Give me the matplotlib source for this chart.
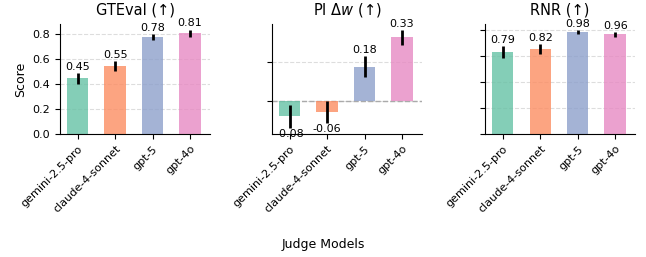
import matplotlib
matplotlib.use("Agg")
import matplotlib.pyplot as plt

models = ["gemini-2.5-pro", "claude-4-sonnet", "gpt-5", "gpt-4o"]
colors = ["#66c2a5", "#fc8d62", "#8da0cb", "#e78ac3"]

gteval = [0.445, 0.545, 0.775, 0.805]
gteval_err = [0.045, 0.04, 0.025, 0.03]
gteval_lbl = ["0.45", "0.55", "0.78", "0.81"]

pi_dw = [-0.08, -0.06, 0.177, 0.33]
pi_dw_err = [0.06, 0.057, 0.055, 0.04]
pi_dw_lbl = ["-0.08", "-0.06", "0.18", "0.33"]

rnr = [0.79, 0.82, 0.98, 0.96]
rnr_err = [0.055, 0.05, 0.02, 0.025]
rnr_lbl = ["0.79", "0.82", "0.98", "0.96"]

fig = plt.figure(figsize=(6.46, 2.57), dpi=100)

lefts = [0.093, 0.421, 0.751]
panels = [
    ("GTEval (↑)", gteval, gteval_err, gteval_lbl, (0, 0.88), [0, 0.2, 0.4, 0.6, 0.8], True),
    ("PI $\\Delta w$ (↑)", pi_dw, pi_dw_err, pi_dw_lbl, (-0.173, 0.40), [0, 0.2], False),
    ("RNR (↑)", rnr, rnr_err, rnr_lbl, (0, 1.06), [0, 0.25, 0.5, 0.75, 1.0], False),
]

x = range(len(models))
for left, (title, vals, errs, lbls, ylim, yt, show_y) in zip(lefts, panels):
    ax = fig.add_axes([left, 0.479, 0.232, 0.428])
    ax.bar(x, vals, 0.57, color=colors, alpha=0.8, zorder=2)
    ax.errorbar(x, vals, yerr=errs, fmt="none", ecolor="black", elinewidth=2, capsize=0, zorder=3)
    for i, v in enumerate(vals):
        if v >= 0:
            ax.text(i, v + errs[i] + 0.01 * (ylim[1] - ylim[0]), lbls[i],
                    ha="center", va="bottom", fontsize=8, zorder=4)
        else:
            ax.text(i, v - errs[i] - 0.01 * (ylim[1] - ylim[0]), lbls[i],
                    ha="center", va="top", fontsize=8, zorder=4)
    ax.set_ylim(*ylim)
    ax.set_xlim(-0.47, 3.53)
    ax.set_yticks(yt)
    ax.yaxis.grid(True, linestyle="--", color="#dddddd", linewidth=0.8, zorder=0)
    ax.set_axisbelow(True)
    if ylim[0] < 0:
        ax.axhline(0, color="#aaaaaa", linestyle="--", linewidth=1, zorder=1)
    ax.spines["top"].set_visible(False)
    ax.spines["right"].set_visible(False)
    ax.set_xticks(list(x))
    ax.set_xticklabels(models, rotation=45, ha="right", rotation_mode="anchor", fontsize=8)
    ax.set_title(title, fontsize=10.5, pad=7)
    if show_y:
        ax.set_ylabel("Score", fontsize=9)
        ax.tick_params(axis="y", labelsize=8)
    else:
        ax.set_yticklabels([])

fig.text(0.5, 0.025, "Judge Models", ha="center", va="bottom", fontsize=9)
fig.savefig("out.png", dpi=100)
